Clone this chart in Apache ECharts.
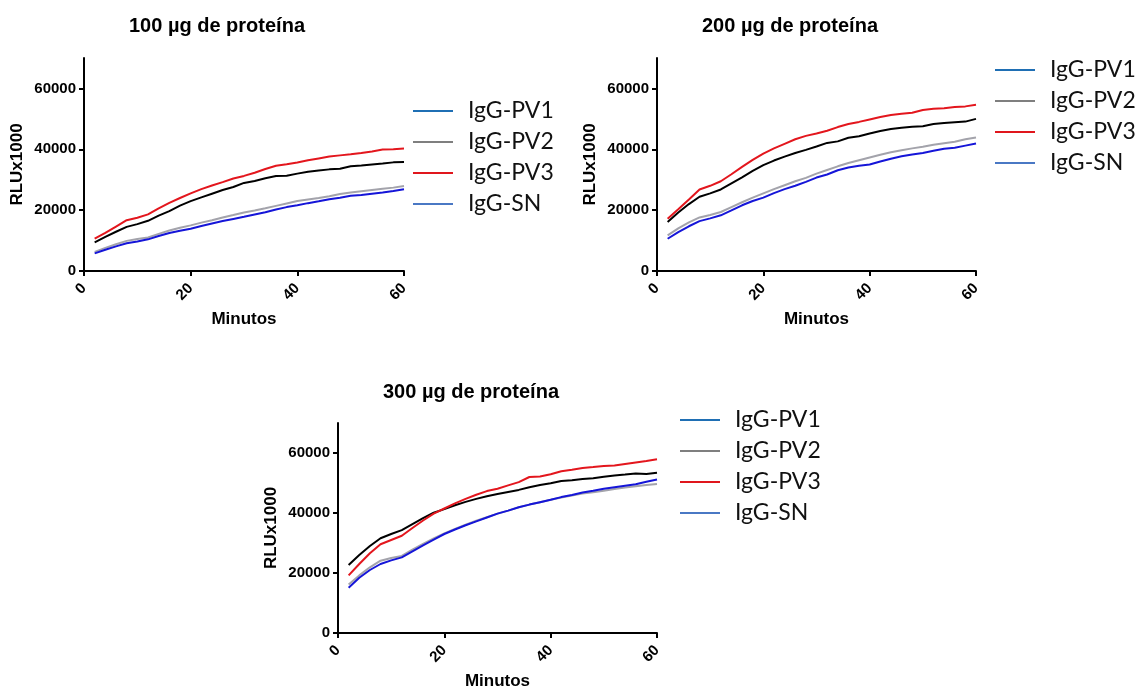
<!DOCTYPE html>
<html lang="es">
<head>
    <meta charset="UTF-8">
    <title>RLU vs minutos</title>
    <style>
        html, body { margin: 0; padding: 0; background: #fff; }
        #chart { width: 1139px; height: 691px; }
    </style>
</head>
<body>
    <div id="chart"></div>
    <script src="https://cdn.jsdelivr.net/npm/echarts@6/dist/echarts.min.js"></script>
    <script>
        // minutos (eje x)
        var minutos = [2, 4, 6, 8, 10, 12, 14, 16, 18, 20, 22, 24, 26, 28, 30, 32, 34, 36, 38, 40, 42, 44, 46, 48, 50, 52, 54, 56, 58, 60];
        var yTicks = [0, 20000, 40000, 60000];
        var xTicks = [0, 20, 40, 60];
        var titulos = ['100 \u00b5g de prote\u00edna', '200 \u00b5g de prote\u00edna', '300 \u00b5g de prote\u00edna'];
        var nombres = ['IgG-PV1', 'IgG-PV2', 'IgG-PV3', 'IgG-SN'];

        // 100 ug
        var pv1_100 = [9400, 11200, 12900, 14500, 15400, 16500, 18200, 19700, 21500, 22950, 24200, 25400, 26600, 27600, 28950, 29600, 30500, 31200, 31300, 32000, 32600, 33000, 33400, 33600, 34430, 34700, 35000, 35300, 35700, 35840];
        var pv2_100 = [6300, 7600, 8800, 9900, 10500, 11000, 12200, 13300, 14200, 15000, 15900, 16700, 17600, 18400, 19250, 19900, 20600, 21400, 22200, 23000, 23500, 24000, 24600, 25300, 25800, 26200, 26600, 27000, 27400, 27970];
        var pv3_100 = [10600, 12500, 14600, 16700, 17500, 18600, 20600, 22400, 24000, 25500, 26900, 28100, 29200, 30400, 31250, 32300, 33500, 34600, 35100, 35630, 36400, 37000, 37600, 38000, 38360, 38800, 39300, 39900, 40000, 40230];
        var sn_100 = [5800, 7000, 8100, 9100, 9700, 10400, 11500, 12500, 13200, 13900, 14800, 15600, 16400, 17100, 17800, 18600, 19300, 20200, 21000, 21600, 22300, 22900, 23600, 24100, 24700, 25000, 25400, 25800, 26300, 26880];

        // 200 ug
        var pv1_200 = [16100, 19200, 22000, 24400, 25500, 26800, 28800, 30800, 32900, 34800, 36300, 37600, 38800, 39800, 40900, 42100, 42600, 43800, 44300, 45200, 46000, 46700, 47100, 47400, 47600, 48300, 48600, 48900, 49100, 50000];
        var pv2_200 = [11700, 14000, 16000, 17600, 18400, 19400, 21000, 22600, 24100, 25500, 26900, 28200, 29500, 30600, 32000, 33200, 34400, 35500, 36400, 37300, 38200, 39000, 39700, 40300, 40800, 41500, 42000, 42500, 43300, 43900];
        var pv3_200 = [17200, 20300, 23500, 26800, 28000, 29500, 31800, 34200, 36500, 38600, 40300, 41800, 43300, 44400, 45200, 46100, 47300, 48300, 49000, 49800, 50600, 51300, 51700, 52000, 52900, 53300, 53500, 53900, 54100, 54600];
        var sn_200 = [10600, 12800, 14700, 16400, 17300, 18300, 19900, 21600, 23000, 24100, 25600, 26900, 28000, 29300, 30700, 31700, 33100, 34000, 34600, 35000, 36000, 36900, 37700, 38300, 38800, 39500, 40200, 40500, 41200, 41900];

        // 300 ug
        var pv1_300 = [22700, 26000, 29000, 31600, 33000, 34300, 36300, 38300, 40100, 41300, 42600, 43700, 44700, 45600, 46300, 47000, 47700, 48600, 49300, 49900, 50700, 50900, 51300, 51600, 52100, 52500, 52800, 53200, 53000, 53400];
        var pv2_300 = [16200, 19200, 21900, 24100, 25000, 25700, 27800, 29700, 31500, 33200, 34700, 36100, 37400, 38600, 39800, 40800, 41900, 42800, 43600, 44400, 45200, 45800, 46500, 46900, 47400, 48000, 48500, 48900, 49300, 49700];
        var pv3_300 = [19200, 23000, 26600, 29600, 31000, 32400, 35000, 37500, 39800, 41500, 43200, 44700, 46100, 47300, 48100, 49200, 50300, 52000, 52200, 52900, 53900, 54400, 55000, 55300, 55700, 55800, 56300, 56800, 57300, 57900];
        var sn_300 = [15100, 18400, 21000, 23000, 24200, 25200, 27200, 29200, 31100, 33000, 34500, 35900, 37200, 38500, 39800, 40800, 41900, 42800, 43600, 44400, 45300, 46000, 46800, 47400, 48100, 48600, 49100, 49600, 50400, 51200];

        var paneles = [
            [pv1_100, pv2_100, pv3_100, sn_100],
            [pv1_200, pv2_200, pv3_200, sn_200],
            [pv1_300, pv2_300, pv3_300, sn_300]
        ];

        var colLinea = ['#000000', '#a3a3ab', '#e3161d', '#1515d8'];
        var colLeyenda = ['#1f6fb4', '#7f7f7f', '#e0161d', '#4a78c4'];

        // posiciones de cada panel
        var grids = [
            { left: 84, top: 58, width: 320, height: 213 },
            { left: 657, top: 58, width: 319, height: 213 },
            { left: 338, top: 423, width: 319, height: 214 }
        ];
        var legendPos = [
            { left: 413, top: 99 },
            { left: 995, top: 58 },
            { left: 680, top: 408 }
        ];
        var titlePos = [[217, 26], [790, 26], [471, 392]];

        var bold = { fontFamily: 'Liberation Sans, Arial, sans-serif', fontWeight: 'bold', color: '#000' };
        var eje = { show: true, onZero: false, lineStyle: { color: '#000', width: 2 } };
        var tick = { show: true, inside: false, length: 5, lineStyle: { color: '#000', width: 2 } };

        var xAxes = [], yAxes = [], series = [], legends = [], graphics = [];
        grids.forEach(function (g, i) {
            xAxes.push({
                type: 'value', gridIndex: i, min: 0, max: 60,
                axisLine: eje,
                axisTick: Object.assign({ customValues: xTicks }, tick),
                axisLabel: Object.assign({ customValues: xTicks, rotate: 45, fontSize: 15, margin: 15 }, bold),
                splitLine: { show: false },
                name: 'Minutos', nameLocation: 'middle', nameGap: 40,
                nameTextStyle: Object.assign({ fontSize: 17 }, bold)
            });
            yAxes.push({
                type: 'value', gridIndex: i, min: 0, max: 70000,
                axisLine: eje,
                axisTick: Object.assign({ customValues: yTicks }, tick),
                axisLabel: Object.assign({
                    customValues: yTicks, fontSize: 15, margin: 8,
                    formatter: function (v) { return String(v); }
                }, bold),
                splitLine: { show: false },
                name: 'RLUx1000', nameLocation: 'middle', nameGap: 58, nameRotate: 90,
                nameTextStyle: Object.assign({ fontSize: 17 }, bold)
            });
            paneles[i].forEach(function (vals, k) {
                series.push({
                    type: 'line', name: nombres[k], xAxisIndex: i, yAxisIndex: i,
                    symbol: 'none', smooth: false,
                    lineStyle: { color: colLinea[k], width: 2 },
                    itemStyle: { color: colLinea[k] },
                    data: minutos.map(function (m, j) { return [m, vals[j]]; })
                });
            });
            legends.push({
                left: legendPos[i].left, top: legendPos[i].top, padding: 0,
                orient: 'vertical', icon: 'rect', itemWidth: 40, itemHeight: 2, itemGap: 7,
                selectedMode: false,
                textStyle: { fontFamily: 'Lato, sans-serif', fontSize: 23, lineHeight: 24, color: '#111', padding: [0, 0, 0, 10] },
                data: nombres.map(function (n, k) {
                    return { name: n, itemStyle: { color: colLeyenda[k] } };
                })
            });
            graphics.push({
                type: 'text', x: titlePos[i][0], y: titlePos[i][1],
                style: { text: titulos[i], align: 'center', verticalAlign: 'middle', font: 'bold 20px Liberation Sans, Arial, sans-serif', fill: '#000' }
            });
        });

        var chart = echarts.init(document.getElementById('chart'));
        chart.setOption({
            animation: false,
            backgroundColor: '#fff',
            grid: grids,
            xAxis: xAxes,
            yAxis: yAxes,
            legend: legends,
            graphic: graphics,
            series: series
        });
    </script>
</body>
</html>
